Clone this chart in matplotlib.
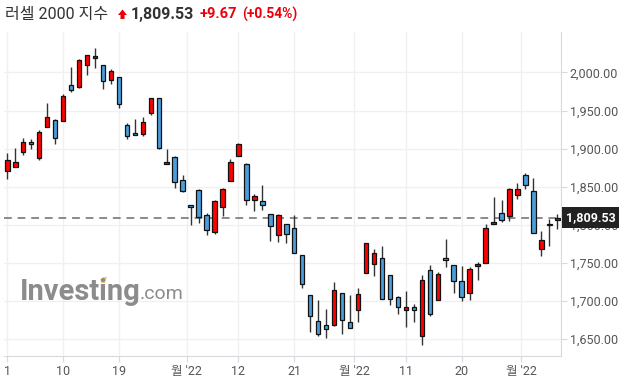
import numpy as np
import matplotlib
matplotlib.use('Agg')
import matplotlib.pyplot as plt
from matplotlib.patches import Polygon

plt.rcParams['font.family'] = ['Roboto', 'Noto Sans CJK KR', 'DejaVu Sans']

# 일봉 데이터 (시가, 고가, 저가, 종가)
opens = [1870.6, 1876.3, 1895.6, 1909.2, 1888.2, 1928.9, 1938.2, 1936.8, 1982.9, 1980.3,
         2009.2, 2018.4, 2009.2, 1989.5, 1993.4, 1931.6, 1921.1, 1919.3, 1946.1, 1965.8,
         1879.8, 1889.5, 1859.2, 1826.3, 1845.2, 1813.2, 1790.8, 1823.7, 1857.9, 1890.8,
         1880.3, 1832.9, 1831.6, 1814.5, 1786.8, 1801.3, 1796.1, 1760.5, 1707.9, 1673.7,
         1668.4, 1668.4, 1710.5, 1672.4, 1688.2, 1736.8, 1748.7, 1756.6, 1734.2, 1705.3,
         1688.2, 1692.1, 1653.9, 1740.8, 1701.3, 1756.6, 1747.4, 1726.3, 1710.5, 1746.1,
         1750.0, 1801.3, 1815.8, 1811.8, 1839.5, 1865.8, 1844.7, 1768.4, 1801.3, 1806.6]
highs = [1893.9, 1901.3, 1913.6, 1912.3, 1924.1, 1959.6, 1938.6, 1971.5, 2006.6, 2017.0,
         2022.8, 2031.6, 2009.6, 2003.9, 1993.8, 1934.2, 1938.6, 1941.7, 1966.0, 1966.0,
         1899.1, 1889.8, 1865.8, 1826.6, 1847.4, 1815.8, 1832.9, 1847.8, 1886.0, 1907.0,
         1880.7, 1840.8, 1852.6, 1814.9, 1814.5, 1801.7, 1813.2, 1760.9, 1708.3, 1701.3,
         1689.5, 1725.0, 1710.9, 1707.9, 1717.1, 1776.7, 1768.4, 1772.4, 1734.6, 1706.6,
         1713.2, 1696.1, 1734.2, 1747.4, 1738.2, 1781.6, 1747.8, 1746.1, 1744.7, 1751.3,
         1801.3, 1836.8, 1832.9, 1848.7, 1855.3, 1868.4, 1861.8, 1792.1, 1807.9, 1814.5]
lows = [1860.5, 1875.5, 1891.7, 1900.0, 1885.1, 1928.5, 1906.6, 1936.4, 1973.7, 1980.0,
        1996.1, 2005.3, 1977.6, 1984.2, 1953.9, 1912.3, 1918.0, 1916.7, 1943.9, 1899.1,
        1879.5, 1848.7, 1843.4, 1800.0, 1802.6, 1786.8, 1788.6, 1812.3, 1857.5, 1890.4,
        1826.3, 1818.4, 1819.7, 1778.9, 1777.6, 1776.3, 1762.8, 1717.1, 1659.2, 1654.0,
        1651.3, 1668.0, 1656.6, 1664.2, 1672.4, 1736.4, 1732.9, 1702.2, 1694.7, 1682.9,
        1665.8, 1672.4, 1642.1, 1680.3, 1701.0, 1744.7, 1710.5, 1700.0, 1701.3, 1727.6,
        1749.6, 1801.0, 1803.9, 1805.3, 1834.2, 1847.4, 1789.1, 1759.2, 1772.4, 1794.7]
closes = [1884.6, 1882.9, 1909.2, 1906.6, 1922.4, 1942.1, 1914.5, 1969.7, 1976.3, 2016.7,
          2022.4, 2021.1, 1988.2, 2001.3, 1959.2, 1916.7, 1918.4, 1935.5, 1965.8, 1900.9,
          1882.5, 1856.6, 1844.3, 1823.7, 1810.5, 1793.4, 1831.6, 1847.4, 1882.9, 1906.6,
          1832.9, 1838.2, 1826.3, 1798.7, 1813.2, 1788.2, 1763.2, 1722.4, 1680.3, 1656.6,
          1663.2, 1714.5, 1675.0, 1664.5, 1709.2, 1776.3, 1763.2, 1702.6, 1702.6, 1692.1,
          1692.1, 1688.2, 1727.6, 1682.9, 1735.5, 1753.9, 1726.3, 1705.3, 1742.1, 1748.7,
          1796.1, 1803.9, 1806.6, 1847.4, 1847.4, 1852.6, 1789.5, 1780.3, 1799.9, 1809.53]

tick_pos = [0, 7, 14, 22.5, 29, 36, 43.5, 50, 57, 64.5]
tick_labels = ['1', '10', '19', "월 '22", '12', '21', "월 '22", '11', '20', "월 '22"]
y_ticks = [1650, 1700, 1750, 1800, 1850, 1900, 1950, 2000]

last_price = 1809.53
W, H = 624, 382

fig = plt.figure(figsize=(W/100, H/100), dpi=100)
ax = fig.add_axes([4/W, 1-355.7/H, 557.3/W, (355.7-32)/H])

x = np.arange(len(opens))
o = np.array(opens); c = np.array(closes)
up = c >= o
cols = np.where(up, '#ff0000', '#4a9edb')
bottom = np.minimum(o, c)
height = np.maximum(np.abs(c - o), 1.2)

ax.vlines(x, lows, highs, color='#333333', linewidth=1, zorder=2)
ax.bar(x, height, bottom=bottom, width=0.56, color=cols, edgecolor='#111111', linewidth=0.9, zorder=3)

ax.axhline(last_price, color='#8a8a8a', linestyle=(0, (4, 3)), linewidth=1.4, zorder=1.8)

ax.set_xlim(-0.414, 69.5)
ax.set_ylim(1628.4, 2053)
ax.set_xticks(tick_pos)
ax.set_xticklabels(tick_labels)
ax.set_yticks(y_ticks)
ax.set_yticklabels([f'{v:,.2f}' for v in y_ticks])
ax.yaxis.tick_right()
ax.grid(True, color='#f0f0f0', linewidth=1)
ax.set_axisbelow(True)
for s in ['left', 'top']:
    ax.spines[s].set_visible(False)
for s in ['right', 'bottom']:
    ax.spines[s].set_color('#d6d9de')
ax.tick_params(axis='y', length=4, color='#d6d9de', labelsize=9, labelcolor='#555555', pad=2)
ax.tick_params(axis='x', length=4, color='#d6d9de', labelsize=9, labelcolor='#555555', pad=3)

# 현재가 박스
ax.text(1.008, last_price, f'{last_price:,.2f}', transform=ax.get_yaxis_transform(),
        ha='left', va='center', fontsize=9, fontweight='bold', color='white', zorder=10,
        clip_on=False, bbox=dict(boxstyle='square,pad=0.3', fc='#222222', ec='none'))

# 워터마크
fig.text(20/W, 1-292/H, 'Investing', fontsize=21, fontweight='bold', color='#8c8c8c', va='center')
fig.patches.append(Polygon([(101/W, 1-283/H), (103/W, 1-277/H), (107/W, 1-277/H), (105/W, 1-283/H)],
                           closed=True, fc='#f7c46c', ec='none', transform=fig.transFigure, figure=fig))
fig.text(140/W, 1-294/H, '.com', fontsize=14, color='#8c8c8c', va='center')

# 제목 줄
fig.text(5/W, 1-14/H, '러셀 2000 지수', fontsize=11.5, color='#333333', va='center')
arrow = [(118, 15), (122.5, 9.5), (127, 15), (124.5, 15), (124.5, 19), (120.5, 19), (120.5, 15)]
fig.patches.append(Polygon([(a/W, 1-b/H) for a, b in arrow], closed=True, fc='#e8000b', ec='none',
                           transform=fig.transFigure, figure=fig))
fig.text(131/W, 1-14/H, '1,809.53', fontsize=11.5, fontweight='bold', color='#333333', va='center')
fig.text(200/W, 1-14/H, '+9.67', fontsize=10.5, fontweight='bold', color='#e8000b', va='center')
fig.text(242/W, 1-14/H, '(+0.54%)', fontsize=10, fontweight='bold', color='#e8000b', va='center')

plt.savefig('out.png', dpi=100)
